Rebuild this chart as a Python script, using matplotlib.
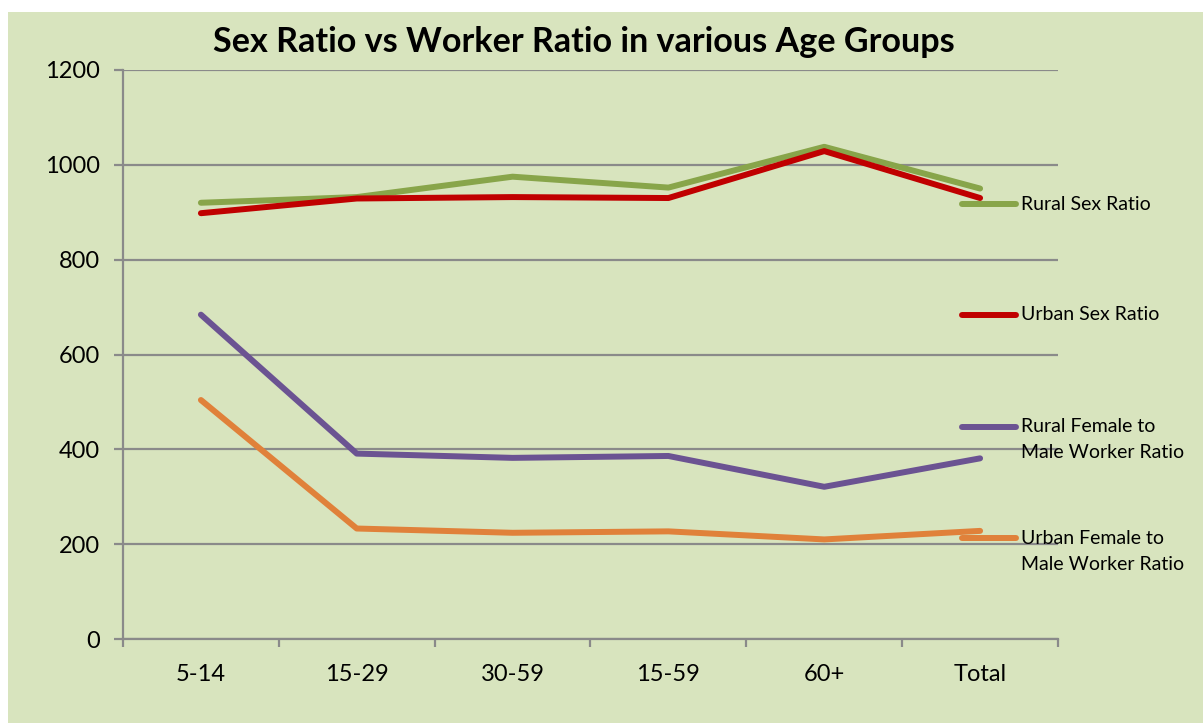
import numpy as np
import matplotlib
matplotlib.use("Agg")
import matplotlib.pyplot as plt
from matplotlib.lines import Line2D
from matplotlib.patches import Rectangle

plt.rcParams['font.family'] = ['Lato', 'DejaVu Sans']

# data
age_groups = ["5-14", "15-29", "30-59", "15-59", "60+", "Total"]
rural_sex = [920, 932, 975, 952, 1038, 950]
urban_sex = [898, 929, 932, 930, 1029, 930]
rural_fm_worker = [684, 391, 382, 386, 321, 381]
urban_fm_worker = [504, 233, 224, 227, 210, 228]

series_names = ["Rural Sex Ratio", "Urban Sex Ratio",
                "Rural Female to\nMale Worker Ratio",
                "Urban Female to\nMale Worker Ratio"]
series_vals = [rural_sex, urban_sex, rural_fm_worker, urban_fm_worker]
colors = ["#88A54A", "#C00000", "#6B5392", "#E0813A"]

bg = "#D8E4BE"
grid_c = "#8A8A8A"

W, H = 1203, 723
fig = plt.figure(figsize=(W / 100, H / 100), dpi=100)
fig.patch.set_facecolor("white")
fig.add_artist(Rectangle((8 / W, 0), 1 - 8 / W, 1 - 12 / H,
                         transform=fig.transFigure, facecolor=bg,
                         edgecolor="none", zorder=-10))

ax = fig.add_axes([123 / W, (H - 639) / H, (1058 - 123) / W, (639 - 70) / H])
ax.set_facecolor(bg)

x = np.arange(len(age_groups))
for vals, c in zip(series_vals, colors):
    ax.plot(x, vals, color=c, lw=4.3, solid_capstyle="round",
            solid_joinstyle="round", zorder=3)

ax.set_xlim(-0.5, len(age_groups) - 0.5)
ax.set_ylim(0, 1200)
ax.set_yticks(np.arange(0, 1201, 200))
ax.yaxis.grid(True, color=grid_c, lw=1.6)
ax.set_axisbelow(True)

ax.set_xticks(x)
ax.set_xticklabels(age_groups)
ax.set_xticks(np.arange(-0.5, len(age_groups)), minor=True)
ax.tick_params(axis="x", which="major", length=0, pad=18, labelsize=17)
ax.tick_params(axis="x", which="minor", length=6, width=1.6, color=grid_c)
ax.tick_params(axis="y", length=6.5, width=1.6, color=grid_c, pad=10,
               labelsize=17)

for s in ["top", "right"]:
    ax.spines[s].set_visible(False)
for s in ["left", "bottom"]:
    ax.spines[s].set_color(grid_c)
    ax.spines[s].set_linewidth(1.6)

fig.text(584 / W, 1 - 42 / H, "Sex Ratio vs Worker Ratio in various Age Groups",
         ha="center", va="center", fontsize=24.6, fontweight="bold")

# legend on the right, handle aligned with first text line
leg_y = [204, 315, 427, 538]
for name, c, yy in zip(series_names, colors, leg_y):
    fy = 1 - yy / H
    fig.add_artist(Line2D([962 / W, 1016 / W], [fy, fy], color=c, lw=4.3,
                          solid_capstyle="round", transform=fig.transFigure))
    fig.text(1021 / W, fy, name.split("\n")[0], ha="left", va="center",
             fontsize=14)
    if "\n" in name:
        fig.text(1021 / W, 1 - (yy + 26) / H, name.split("\n")[1],
                 ha="left", va="center", fontsize=14)

fig.savefig("out.png", dpi=100, facecolor=fig.get_facecolor())
